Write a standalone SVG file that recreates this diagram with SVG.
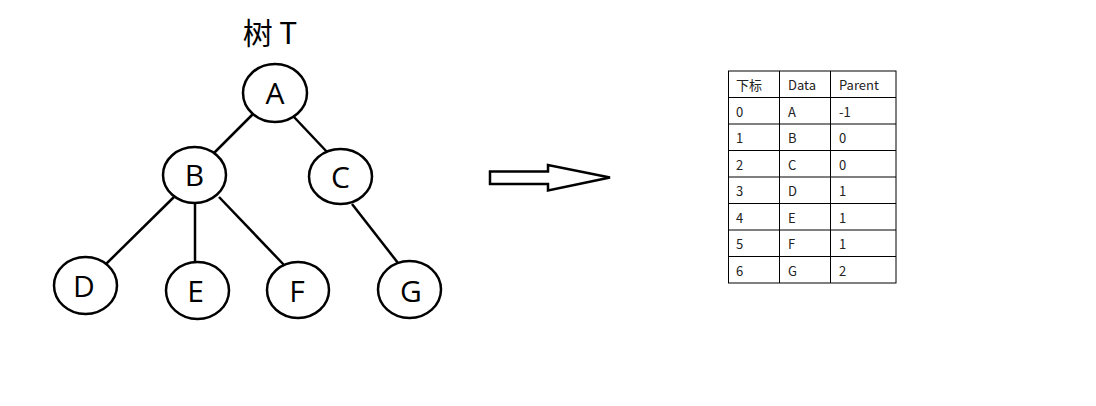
<svg xmlns="http://www.w3.org/2000/svg" width="1096" height="406" viewBox="0 0 1096 406">
<style>
.node ellipse{fill:#fff;stroke:#000;stroke-width:2.5}
.node text{font-family:"Open Sans","Noto Sans",sans-serif;font-size:30px;fill:#000;text-anchor:middle}
.edges line{stroke:#000;stroke-width:2.5}
.grid line{stroke:#000;stroke-width:1}
.cell{font-family:"Noto Sans CJK SC","Noto Sans",sans-serif;font-size:13px;fill:#222}
.title{font-family:"Noto Sans CJK SC","Noto Sans",sans-serif;font-size:30px;fill:#000;text-anchor:middle}
</style>
<rect width="1096" height="406" fill="#fff"/>
<text class="title" x="270" y="44">树 T</text>
<g id="edges" class="edges">
<line x1="253" y1="114" x2="214" y2="153"/>
<line x1="294" y1="117" x2="328" y2="153"/>
<line x1="174" y1="197" x2="105" y2="265"/>
<line x1="195" y1="203" x2="195" y2="263"/>
<line x1="219" y1="197" x2="285" y2="266"/>
<line x1="352" y1="204" x2="398" y2="263"/>
</g>
<g id="node-A" class="node"><ellipse cx="275" cy="93" rx="32" ry="29"/><text x="275" y="104">A</text></g>
<g id="node-B" class="node"><ellipse cx="194.5" cy="175" rx="31.5" ry="28"/><text x="194.5" y="186">B</text></g>
<g id="node-C" class="node"><ellipse cx="340.5" cy="176.5" rx="31.5" ry="27.5"/><text x="340.5" y="188">C</text></g>
<g id="node-D" class="node"><ellipse cx="85.5" cy="285.5" rx="31.5" ry="28.5"/><text x="84" y="297">D</text></g>
<g id="node-E" class="node"><ellipse cx="197.5" cy="290.5" rx="31.5" ry="28.5"/><text x="195.5" y="302">E</text></g>
<g id="node-F" class="node"><ellipse cx="298" cy="290" rx="31" ry="28"/><text x="297" y="302">F</text></g>
<g id="node-G" class="node"><ellipse cx="409.5" cy="289.5" rx="31.5" ry="28.5"/><text x="411" y="302">G</text></g>
<g id="arrow">
<polygon points="490,171.5 548,171.5 548,165 610,177.5 548,190.5 548,184 490,184" fill="#fff" stroke="#000" stroke-width="2.5" stroke-linejoin="miter"/>
</g>
<g id="table">
<rect x="728.5" y="71" width="167.5" height="212" fill="#fff" stroke="#000" stroke-width="1"/>
<g class="grid">
<line x1="779.5" y1="71" x2="779.5" y2="283"/>
<line x1="830.5" y1="71" x2="830.5" y2="283"/>
<line x1="728.5" y1="97.5" x2="896" y2="97.5"/>
<line x1="728.5" y1="124" x2="896" y2="124"/>
<line x1="728.5" y1="150.5" x2="896" y2="150.5"/>
<line x1="728.5" y1="177" x2="896" y2="177"/>
<line x1="728.5" y1="203.5" x2="896" y2="203.5"/>
<line x1="728.5" y1="230" x2="896" y2="230"/>
<line x1="728.5" y1="256.5" x2="896" y2="256.5"/>
</g>
<g class="cell">
<text x="736" y="90">下标</text><text x="788" y="90">Data</text><text x="839" y="90">Parent</text>
<text x="736" y="116.5">0</text><text x="788" y="116.5">A</text><text x="839" y="116.5">-1</text>
<text x="736" y="143">1</text><text x="788" y="143">B</text><text x="839" y="143">0</text>
<text x="736" y="169.5">2</text><text x="788" y="169.5">C</text><text x="839" y="169.5">0</text>
<text x="736" y="196">3</text><text x="788" y="196">D</text><text x="839" y="196">1</text>
<text x="736" y="222.5">4</text><text x="788" y="222.5">E</text><text x="839" y="222.5">1</text>
<text x="736" y="249">5</text><text x="788" y="249">F</text><text x="839" y="249">1</text>
<text x="736" y="275.5">6</text><text x="788" y="275.5">G</text><text x="839" y="275.5">2</text>
</g>
</g>
</svg>
